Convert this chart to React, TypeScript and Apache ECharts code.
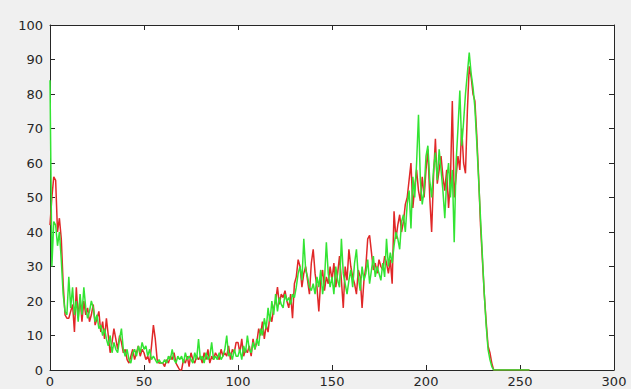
import React, { useEffect, useRef } from "react";
import * as echarts from "echarts";

const xTicks = [0, 50, 100, 150, 200, 250, 300];
const yTicks = [0, 10, 20, 30, 40, 50, 60, 70, 80, 90, 100];

// green series, bins 0..255
const greenValues = [
  84, 30, 43, 42, 36, 40, 32, 22, 17, 16,
  27, 18, 24, 16, 20, 14, 22, 16, 24, 18,
  15, 17, 20, 18, 14, 16, 12, 13, 10, 12,
  9, 7, 10, 5, 8, 6, 5, 9, 12, 6,
  4, 6, 3, 2, 5, 6, 4, 7, 5, 8,
  6, 7, 4, 6, 3, 4, 3, 2, 3, 2,
  2, 3, 2, 4, 3, 6, 3, 2, 4, 3,
  4, 2, 5, 3, 4, 3, 2, 5, 3, 9,
  3, 4, 2, 5, 3, 4, 8, 3, 4, 3,
  5, 3, 4, 6, 10, 4, 5, 3, 6, 4,
  4, 6, 3, 7, 5, 10, 6, 5, 8, 6,
  9, 7, 12, 10, 15, 12, 18, 14, 20, 16,
  22, 17, 21, 19, 18, 22, 20, 21, 19, 22,
  21, 24, 28, 30, 26, 38, 29, 27, 24, 23,
  25, 22, 27, 24, 29, 22, 26, 37, 28, 24,
  27, 22, 30, 26, 24, 38, 28, 25, 22, 26,
  29, 24, 31, 35, 27, 23, 30, 26, 28, 32,
  25, 29, 33, 27, 30, 28, 26, 31, 27, 38,
  30, 34, 31, 36, 40, 38, 35, 43, 45, 40,
  48, 52, 41, 56, 50, 60, 74, 55, 48, 52,
  62, 65, 55, 50, 58, 63, 55, 64, 58, 52,
  44, 55, 60, 50, 58, 37, 60, 70, 81, 65,
  72, 80, 86, 92, 86, 82, 76, 66, 55, 44,
  33, 22, 13, 6, 3, 1, 0, 0, 0, 0,
  0, 0, 0, 0, 0, 0, 0, 0, 0, 0,
  0, 0, 0, 0, 0, 0,
];

// red series, bins 0..255
const redValues = [
  42, 50, 56, 55, 40, 44, 38, 25, 16, 15,
  15, 17, 19, 11, 24, 15, 21, 14, 20, 16,
  18, 14, 16, 19, 13, 15, 17, 11, 14, 9,
  15, 10, 5, 8, 12, 9, 6, 10, 8, 5,
  6, 3, 2, 4, 6, 3, 5, 7, 4, 6,
  5, 3, 4, 2, 7, 13, 9, 3, 2, 2,
  2, 1, 3, 2, 4, 3, 5, 2, 1, 0,
  0, 3, 2, 4, 1, 5, 3, 2, 4, 3,
  4, 2, 5, 3, 6, 2, 4, 3, 5, 4,
  3, 6, 4, 5, 4, 7, 3, 6, 5, 8,
  8, 5, 9, 4, 6, 5, 7, 4, 9, 6,
  8, 12, 10, 14, 9, 13, 11, 16, 14, 18,
  20, 24, 19, 22, 21, 23, 20, 18, 22, 15,
  25, 27, 32, 30, 24, 28, 30, 26, 22, 31,
  35, 28, 24, 17, 26, 29, 23, 27, 25, 30,
  26, 31, 24, 28, 33, 26, 18, 30, 26, 35,
  30, 27, 25, 22, 29, 27, 18, 26, 30, 38,
  39, 34, 29, 31, 28, 32, 30, 29, 33, 31,
  28, 32, 25, 46, 38, 42, 45, 40, 43, 48,
  50, 55, 60, 47, 53, 58, 52, 49, 56, 50,
  58, 64, 50, 40, 56, 67, 54, 58, 62, 56,
  52, 58, 47, 55, 78, 50, 56, 62, 58, 70,
  60, 57, 75, 88, 85, 80, 78, 68, 56, 42,
  32, 22, 14, 7, 5, 2, 0, 0, 0, 0,
  0, 0, 0, 0, 0, 0, 0, 0, 0, 0,
  0, 0, 0, 0, 0, 0,
];

const AXIS_COLOR = "#262626";
const FONT = "DejaVu Sans";

export default function App() {
  const ref = useRef<HTMLDivElement>(null);

  useEffect(() => {
    if (!ref.current) return;
    const chart = echarts.init(ref.current, undefined, { renderer: "svg" });

    const toPairs = (arr: number[]) => arr.map((v, i) => [i, v]);

    const baseAxis = {
      type: "value" as const,
      axisLine: { show: true, onZero: false, lineStyle: { color: AXIS_COLOR, width: 1 } },
      axisTick: { show: true, inside: true, length: 5, lineStyle: { color: AXIS_COLOR, width: 1 } },
      splitLine: { show: false },
    };

    const labelStyle = {
      color: AXIS_COLOR,
      fontSize: 13,
      fontFamily: FONT,
    };

    chart.setOption({
      animation: false,
      backgroundColor: "#f0f0f0",
      grid: {
        left: 50,
        top: 25,
        right: 17,
        bottom: 19,
        show: true,
        backgroundColor: "#ffffff",
        borderWidth: 0,
      },
      xAxis: [
        {
          ...baseAxis,
          position: "bottom",
          min: xTicks[0],
          max: xTicks[xTicks.length - 1],
          interval: xTicks[1] - xTicks[0],
          axisLabel: { ...labelStyle, margin: 5, showMinLabel: true, showMaxLabel: true },
        },
        {
          ...baseAxis,
          position: "top",
          min: xTicks[0],
          max: xTicks[xTicks.length - 1],
          interval: xTicks[1] - xTicks[0],
          axisLabel: { show: false },
        },
      ],
      yAxis: [
        {
          ...baseAxis,
          position: "left",
          min: yTicks[0],
          max: yTicks[yTicks.length - 1],
          interval: yTicks[1] - yTicks[0],
          axisLabel: { ...labelStyle, margin: 7, showMinLabel: true, showMaxLabel: true },
        },
        {
          ...baseAxis,
          position: "right",
          min: yTicks[0],
          max: yTicks[yTicks.length - 1],
          interval: yTicks[1] - yTicks[0],
          axisLabel: { show: false },
        },
      ],
      series: [
        {
          name: "red",
          type: "line",
          xAxisIndex: 0,
          yAxisIndex: 0,
          data: toPairs(redValues),
          showSymbol: false,
          symbol: "none",
          lineStyle: { color: "#e02828", width: 1.5 },
          z: 2,
        },
        {
          name: "green",
          type: "line",
          xAxisIndex: 0,
          yAxisIndex: 0,
          data: toPairs(greenValues),
          showSymbol: false,
          symbol: "none",
          lineStyle: { color: "#33e433", width: 1.5 },
          z: 3,
        },
      ],
    });

    return () => chart.dispose();
  }, []);

  return (
    <div
      ref={ref}
      style={{ position: "fixed", left: 0, top: 0, width: 631, height: 389 }}
    />
  );
}
